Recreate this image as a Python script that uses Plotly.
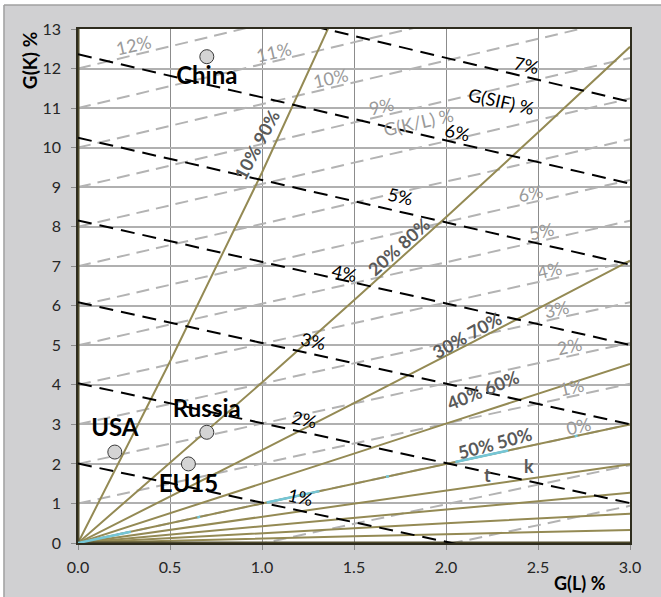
import numpy as np
import plotly.graph_objects as go

# ---------------------------------------------------------------
# Data (growth rates in percent)
# ---------------------------------------------------------------
# G(L) sample points used by the labour/capital share curves
gl_grid = [0.0, 0.5, 1.0, 1.5, 2.0, 2.5, 3.0]

# share curves: G(K) along gl_grid for each labour/capital split
share_names = ["10% 90%", "20% 80%", "30% 70%", "40% 60%", "50% 50%",
               "60% 40%", "70% 30%", "80% 20%", "90% 10%"]
share_gk = [
    [0.0, 4.59, 9.37, 14.34, 19.51, 24.89, 30.48],
    [0.0, 2.02, 4.06, 6.14, 8.24, 10.38, 12.55],
    [0.0, 1.17, 2.35, 3.54, 4.73, 5.93, 7.14],
    [0.0, 0.75, 1.50, 2.26, 3.02, 3.77, 4.53],
    [0.0, 0.50, 1.00, 1.50, 2.00, 2.50, 3.00],
    [0.0, 0.33, 0.67, 1.00, 1.33, 1.66, 1.99],
    [0.0, 0.21, 0.43, 0.64, 0.85, 1.06, 1.27],
    [0.0, 0.12, 0.25, 0.37, 0.50, 0.62, 0.74],
    [0.0, 0.06, 0.11, 0.17, 0.22, 0.27, 0.33],
]
# the two limiting splits: all labour (G(L)=0) and all capital (G(K)=0)
edge_gl_vertical = [0.0, 0.0]
edge_gk_vertical = [0.0, 13.0]
edge_gl_horizontal = [0.0, 3.0]
edge_gk_horizontal = [0.0, 0.0]

# G(SIF) iso-lines: G(K) at G(L)=0 and at G(L)=3
sif_gl_ends = [0.0, 3.0]
sif_levels = [1, 2, 3, 4, 5, 6, 7]
sif_gk_start = [2.01, 4.04, 6.09, 8.16, 10.25, 12.36, 14.49]
sif_gk_end = [-0.96, 1.01, 3.00, 5.01, 7.04, 9.09, 11.16]

# G(K/L) iso-lines: G(K) at G(L)=0 and at G(L)=3
kl_levels = [-2, -1, 0, 1, 2, 3, 4, 5, 6, 7, 8, 9, 10, 11, 12]
kl_gk_start = [-2.0, -1.0, 0.0, 1.0, 2.0, 3.0, 4.0, 5.0, 6.0, 7.0, 8.0,
               9.0, 10.0, 11.0, 12.0]
kl_gk_end = [0.94, 1.97, 3.00, 4.03, 5.06, 6.09, 7.12, 8.15, 9.18, 10.21,
             11.24, 12.27, 13.30, 14.33, 15.36]

# economies
countries = ["China", "USA", "Russia", "EU15"]
country_gl = [0.7, 0.2, 0.7, 0.6]
country_gk = [12.3, 2.3, 2.8, 2.0]

x_ticks = [0.0, 0.5, 1.0, 1.5, 2.0, 2.5, 3.0]
y_ticks = [0, 1, 2, 3, 4, 5, 6, 7, 8, 9, 10, 11, 12, 13]

# ---------------------------------------------------------------
# Styling
# ---------------------------------------------------------------
FONT = "Lato, 'Open Sans', sans-serif"
OLIVE = "#948a54"
OLIVE_DARK = "#4f4a2c"
KL_GREY = "#b3b3b3"
KL_TEXT = "#9a9a9a"
SHARE_TEXT = "#595959"
CYAN = "#74c6d6"

fig = go.Figure()

# G(K/L) iso-lines (light grey dashes)
for s, e in zip(kl_gk_start, kl_gk_end):
    fig.add_trace(go.Scatter(x=sif_gl_ends, y=[s, e], mode="lines",
                             line=dict(color=KL_GREY, width=2, dash="13px,7px"),
                             hoverinfo="skip", showlegend=False))

# share curves from the origin
for name, gk in zip(share_names, share_gk):
    fig.add_trace(go.Scatter(x=gl_grid, y=gk, mode="lines", name=name,
                             line=dict(color=OLIVE, width=2),
                             hoverinfo="skip", showlegend=False))

# limiting splits along the axes
fig.add_trace(go.Scatter(x=edge_gl_vertical, y=edge_gk_vertical, mode="lines",
                         line=dict(color=OLIVE_DARK, width=3),
                         hoverinfo="skip", showlegend=False))
fig.add_trace(go.Scatter(x=edge_gl_horizontal, y=edge_gk_horizontal, mode="lines",
                         line=dict(color=OLIVE_DARK, width=3),
                         hoverinfo="skip", showlegend=False))

# G(SIF) iso-lines (black dashes)
for s, e in zip(sif_gk_start, sif_gk_end):
    fig.add_trace(go.Scatter(x=sif_gl_ends, y=[s, e], mode="lines",
                             line=dict(color="#000000", width=2, dash="14px,8px"),
                             hoverinfo="skip", showlegend=False))

# highlighted 50/50 split
fig.add_trace(go.Scatter(x=gl_grid, y=share_gk[4], mode="lines",
                         line=dict(color=CYAN, width=2.5, dash="54px,68px,3px,68px"),
                         hoverinfo="skip", showlegend=False))

# economies
fig.add_trace(go.Scatter(
    x=country_gl, y=country_gk, mode="markers+text", text=countries,
    textposition=["bottom center", "top center", "top center", "bottom center"],
    textfont=dict(family=FONT, size=24, color="#000000", weight="bold"),
    marker=dict(size=14, color="#d4d4d4", line=dict(color="#3a3a3a", width=1)),
    hoverinfo="skip", showlegend=False, cliponaxis=False))

# ---------------------------------------------------------------
# Line labels
# ---------------------------------------------------------------
ann = []

def label(x, y, text, color, size=18, angle=0, bold=False):
    ann.append(dict(x=x, y=y, xref="x", yref="y", text=text, showarrow=False,
                    textangle=angle, xanchor="center", yanchor="middle",
                    font=dict(family=FONT, size=size, color=color,
                              weight="bold" if bold else "normal")))

# G(SIF) labels: placed a little above their line
sif_label_gl = [1.21, 1.23, 1.28, 1.45, 1.75, 2.06, 2.44]
sif_label_lift = [0.35, 0.34, 0.35, 0.20, 0.39, 0.27, 0.32]
for lvl, s, e, gx, lift in zip(sif_levels, sif_gk_start, sif_gk_end,
                               sif_label_gl, sif_label_lift):
    gy = float(np.interp(gx, sif_gl_ends, [s, e])) + lift
    label(gx, gy, f"{lvl}%", "#000000", angle=12.5)
label(2.30, 11.19, "G(SIF) %", "#000000", angle=12.5)

# G(K/L) labels
kl_label_levels = [12, 11, 10, 9, 6, 5, 4, 3, 2, 1, 0]
kl_label_gl = [0.30, 1.06, 1.37, 1.65, 2.46, 2.52, 2.56, 2.60, 2.67, 2.68, 2.72]
for lvl, gx in zip(kl_label_levels, kl_label_gl):
    i = kl_levels.index(lvl)
    gy = float(np.interp(gx, sif_gl_ends, [kl_gk_start[i], kl_gk_end[i]])) + 0.25
    label(gx, gy, f"{lvl}%", KL_TEXT, angle=-12.5)
label(1.85, 10.64, "G(K/L) %", KL_TEXT, angle=-12.5)

# share labels
share_label_pos = [(0.975, 10.08, -62), (1.746, 7.50, -42), (2.114, 5.27, -29),
                   (2.20, 3.88, -22), (2.266, 2.54, -15)]
for name, (gx, gy, ang) in zip(share_names, share_label_pos):
    label(gx, gy, name, SHARE_TEXT, angle=ang, bold=True)
label(2.223, 1.73, "t", SHARE_TEXT, bold=True)
label(2.453, 1.94, "k", SHARE_TEXT, bold=True)

# axis titles
ann.append(dict(x=0.91, y=-0.078, xref="paper", yref="paper", text="G(L) %",
                showarrow=False, xanchor="center", yanchor="middle",
                font=dict(family=FONT, size=18, color="#000000", weight="bold")))
ann.append(dict(x=-0.0873, y=0.939, xref="paper", yref="paper", text="G(K) %",
                showarrow=False, textangle=-90, xanchor="center", yanchor="middle",
                font=dict(family=FONT, size=19, color="#000000", weight="bold")))

# chart frame: grey panel with a light edge on the top and left
shapes = [
    dict(type="rect", xref="paper", yref="paper", x0=-0.2, x1=1.2, y0=1.0467, y1=1.2,
         fillcolor="#ffffff", line=dict(width=0), layer="above"),
    dict(type="rect", xref="paper", yref="paper", x0=-0.2, x1=-0.1341, y0=-0.2, y1=1.2,
         fillcolor="#ffffff", line=dict(width=0), layer="above"),
    dict(type="line", xref="paper", yref="paper", x0=-0.1341, x1=1.2, y0=1.0467, y1=1.0467,
         line=dict(color="#a0a0a0", width=1.5)),
    dict(type="line", xref="paper", yref="paper", x0=-0.1341, x1=-0.1341, y0=-0.2, y1=1.0467,
         line=dict(color="#a0a0a0", width=1.5)),
]

fig.update_layout(
    width=661, height=597,
    margin=dict(l=78, r=31, t=29, b=54),
    paper_bgcolor="#d0d0d2", plot_bgcolor="#ffffff",
    annotations=ann, shapes=shapes, showlegend=False,
)
fig.update_xaxes(range=[0, 3], tickvals=x_ticks,
                 ticktext=[f"{v:.1f}" for v in x_ticks],
                 showgrid=True, gridcolor="#8c8c8c", gridwidth=1,
                 ticks="outside", ticklen=5, tickcolor="#8c8c8c",
                 showline=True, linecolor="#2e2c1e", linewidth=1.5, mirror=True,
                 zeroline=False, ticklabelstandoff=4,
                 tickfont=dict(family=FONT, size=16, color="#262626"))
fig.update_yaxes(range=[0, 13], tickvals=y_ticks,
                 showgrid=True, gridcolor="#b0b0b0", gridwidth=1.5,
                 ticks="outside", ticklen=5, tickcolor="#8c8c8c",
                 showline=True, linecolor="#2e2c1e", linewidth=1.5, mirror=True,
                 zeroline=False, ticklabelstandoff=7,
                 tickfont=dict(family=FONT, size=16, color="#262626"))

fig.write_html("out.html")
